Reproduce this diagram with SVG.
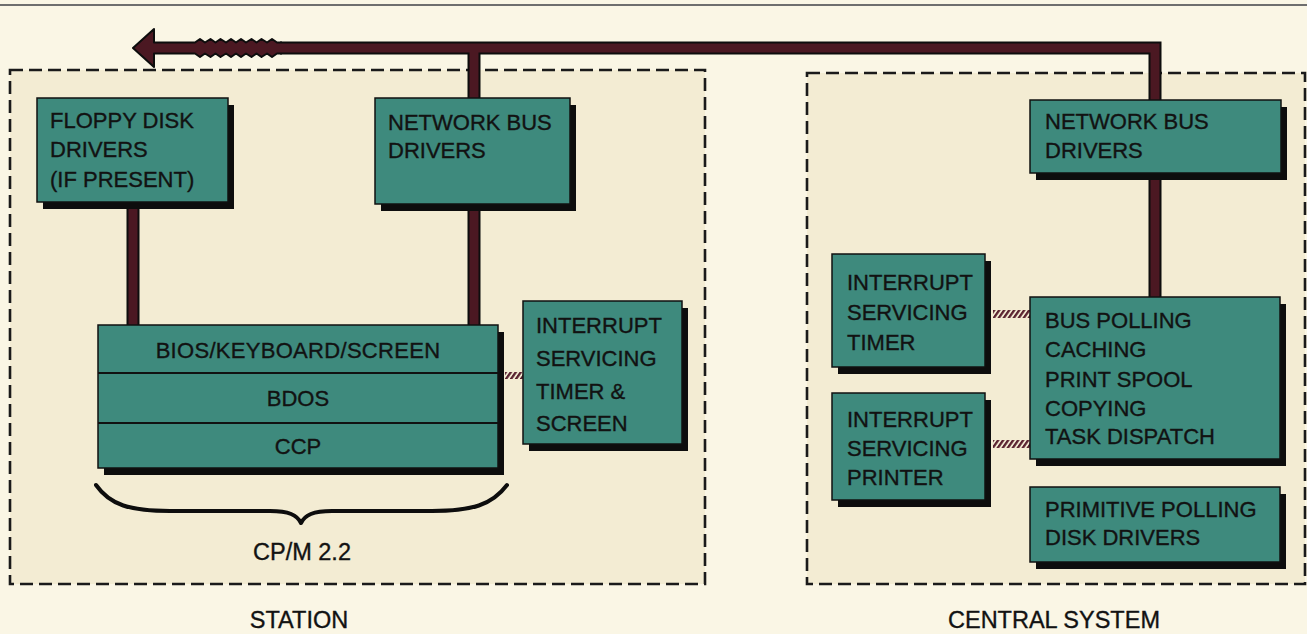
<svg xmlns="http://www.w3.org/2000/svg" width="1307" height="634" viewBox="0 0 1307 634">
<defs>
<style>
.bg{fill:#faf6e5}
.area{fill:#f3ecd3;stroke:#1a1a1a;stroke-width:2.6;stroke-dasharray:13 6}
.shadow{fill:#0d0d0d}
.box{fill:#3e8a7d;stroke:#111;stroke-width:1.5}
.div{stroke:#111;stroke-width:1.8}
.t{font-family:"Liberation Sans",Arial,sans-serif;font-size:22px;fill:#121212;stroke:#121212;stroke-width:0.35}
.lbl{font-size:23.5px}
.c{text-anchor:middle}
.busout{fill:none;stroke:#0d0d0d;stroke-width:13;stroke-linejoin:miter}
.busin{fill:none;stroke:#4b1822;stroke-width:9;stroke-linejoin:miter}
.hatch{fill:url(#hatch)}
</style>
<pattern id="hatch" width="5" height="10" patternUnits="userSpaceOnUse" patternTransform="skewX(-35)">
<rect x="0" y="0" width="2.8" height="10" fill="#5a2230"/>
</pattern>
</defs>
<rect class="bg" x="0" y="0" width="1307" height="634"/>
<line x1="0" y1="5" x2="1307" y2="5" stroke="#6e6e6e" stroke-width="2"/>

<g id="station-area">
<rect class="area" x="10" y="70" width="695" height="514"/>
</g>
<g id="central-area">
<rect class="area" x="807" y="73" width="498" height="511"/>
</g>

<g id="connectors">
<path class="busout" d="M280 48H1155V100M474 48V98M133 202V325M474 204V325M1155 173V297"/>
<path class="busin" d="M280 48H1155V100M474 48V98M133 202V325M474 204V325M1155 173V297"/>
<path fill="#4b1822" d="M133 48L154 29V42.5H195L200 39L205 42.5L210.5 39L215.5 42.5L220.5 39L226 42.5L231 39L236 42.5L241 39L246 42.5L251.5 39L256.5 42.5L261.5 39L267 42.5L272 39L277 42.5H282V53.5H277L272 57L267 53.5L261.5 57L256.5 53.5L251.5 57L246 53.5L241 57L236 53.5L231 57L226 53.5L220.5 57L215.5 53.5L210.5 57L205 53.5L200 57L195 53.5H154V67Z"/>
<path fill="none" stroke="#0d0d0d" stroke-width="2" stroke-linejoin="round" d="M282 42.5H277L272 39L267 42.5L261.5 39L256.5 42.5L251.5 39L246 42.5L241 39L236 42.5L231 39L226 42.5L220.5 39L215.5 42.5L210.5 39L205 42.5L200 39L195 42.5H154V29L133 48L154 67V53.5H195L200 57L205 53.5L210.5 57L215.5 53.5L220.5 57L226 53.5L231 57L236 53.5L241 57L246 53.5L251.5 57L256.5 53.5L261.5 57L267 53.5L272 57L277 53.5H282"/>
<rect class="hatch" x="505" y="372" width="18" height="7"/>
<rect class="hatch" x="993" y="310" width="37" height="8"/>
<rect class="hatch" x="993" y="440" width="37" height="8"/>
</g>

<g id="floppy-disk-drivers">
<rect class="shadow" x="43" y="105" width="191" height="104"/>
<rect class="box" x="37" y="98" width="191" height="104"/>
<text class="t" x="50" y="128">FLOPPY DISK</text>
<text class="t" x="50" y="157">DRIVERS</text>
<text class="t" x="50" y="187">(IF PRESENT)</text>
</g>

<g id="station-network-bus-drivers">
<rect class="shadow" x="381" y="105" width="195" height="106"/>
<rect class="box" x="375" y="98" width="195" height="106"/>
<text class="t" x="388" y="130">NETWORK BUS</text>
<text class="t" x="388" y="158">DRIVERS</text>
</g>

<g id="cpm-stack">
<rect class="shadow" x="104" y="332" width="400" height="143"/>
<rect class="box" x="98" y="325" width="400" height="143"/>
<line class="div" x1="98" y1="373" x2="498" y2="373"/>
<line class="div" x1="98" y1="423" x2="498" y2="423"/>
<text class="t c" x="298" y="358" style="letter-spacing:0.3px">BIOS/KEYBOARD/SCREEN</text>
<text class="t c" x="298" y="406">BDOS</text>
<text class="t c" x="298" y="454">CCP</text>
</g>

<g id="station-interrupt">
<rect class="shadow" x="529" y="308" width="159" height="143"/>
<rect class="box" x="523" y="301" width="159" height="143"/>
<text class="t" x="536" y="333">INTERRUPT</text>
<text class="t" x="536" y="366">SERVICING</text>
<text class="t" x="536" y="399">TIMER &amp;</text>
<text class="t" x="536" y="431">SCREEN</text>
</g>

<g id="cpm-label">
<path d="M96 485C110 505 130 511 170 511L270 511C289 511 297 515 301 523C305 515 313 511 332 511L432 511C472 511 492 505 507 485" fill="none" stroke="#0d0d0d" stroke-width="4" stroke-linecap="round" stroke-linejoin="round"/>
<text class="t lbl c" x="302" y="560">CP/M 2.2</text>
</g>

<g id="central-network-bus-drivers">
<rect class="shadow" x="1036" y="107" width="251" height="73"/>
<rect class="box" x="1030" y="100" width="251" height="73"/>
<text class="t" x="1045" y="129">NETWORK BUS</text>
<text class="t" x="1045" y="158">DRIVERS</text>
</g>

<g id="interrupt-timer">
<rect class="shadow" x="838" y="261" width="153" height="113"/>
<rect class="box" x="832" y="254" width="153" height="113"/>
<text class="t" x="847" y="290">INTERRUPT</text>
<text class="t" x="847" y="320">SERVICING</text>
<text class="t" x="847" y="350">TIMER</text>
</g>

<g id="interrupt-printer">
<rect class="shadow" x="838" y="400" width="153" height="107"/>
<rect class="box" x="832" y="393" width="153" height="107"/>
<text class="t" x="847" y="427">INTERRUPT</text>
<text class="t" x="847" y="456">SERVICING</text>
<text class="t" x="847" y="485">PRINTER</text>
</g>

<g id="bus-polling">
<rect class="shadow" x="1036" y="304" width="250" height="162"/>
<rect class="box" x="1030" y="297" width="250" height="162"/>
<text class="t" x="1045" y="328">BUS POLLING</text>
<text class="t" x="1045" y="357">CACHING</text>
<text class="t" x="1045" y="387">PRINT SPOOL</text>
<text class="t" x="1045" y="416">COPYING</text>
<text class="t" x="1045" y="444">TASK DISPATCH</text>
</g>

<g id="primitive-polling">
<rect class="shadow" x="1036" y="494" width="250" height="75"/>
<rect class="box" x="1030" y="487" width="250" height="75"/>
<text class="t" x="1045" y="517">PRIMITIVE POLLING</text>
<text class="t" x="1045" y="545">DISK DRIVERS</text>
</g>

<g id="labels">
<text class="t lbl c" x="299" y="628">STATION</text>
<text class="t lbl c" x="1054" y="628">CENTRAL SYSTEM</text>
</g>
</svg>
